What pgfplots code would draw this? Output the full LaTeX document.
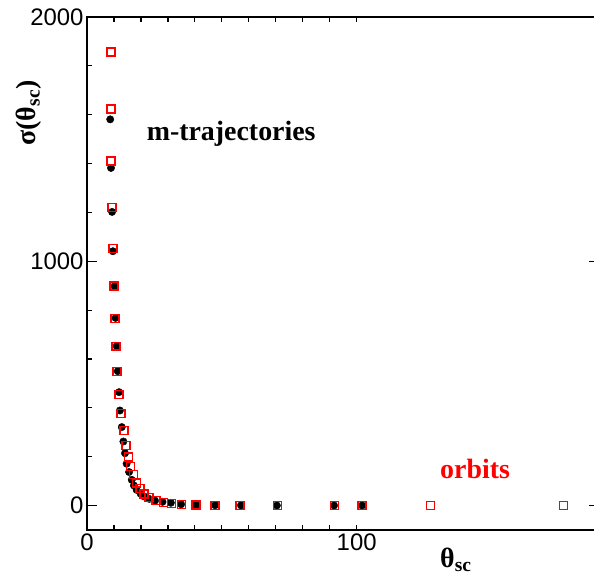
\documentclass[border=0pt]{standalone}
\usepackage{pgfplots}
\pgfplotsset{compat=1.18}
\usepackage{fontspec}
\setmainfont{Liberation Serif}
\setsansfont{Liberation Sans}
\definecolor{orbred}{RGB}{255,0,0}

\begin{document}
\begin{tikzpicture}
\begin{axis}[
    width=512.5bp, height=513bp, scale only axis,
    xmin=0, xmax=190,
    ymin=-100, ymax=2000,
    xtick={0,100}, ytick={0,1000,2000},
    minor x tick num=9, minor y tick num=4,
    axis line style={line width=1.6bp},
    tick style={line width=1.2bp, black},
    major tick length=10bp, minor tick length=5bp,
    xtick style={/pgfplots/major tick length=5bp},
    tick label style={font=\fontsize{24}{24}\selectfont\sffamily},
    /pgf/number format/assume math mode=true,
    /pgf/number format/1000 sep={},
    clip=false,
]
% m-trajectories
\addplot[only marks, mark=*, mark size=3.7bp, color=black] coordinates {
(8.6,1581) (8.9,1382) (9.3,1202) (9.6,1041) (10.2,898) (10.6,768)
(11.0,653) (11.4,550) (11.9,464) (12.2,389) (12.9,321) (13.5,262)
(14.1,214) (14.7,171) (15.6,137) (16.6,105) (17.4,82) (18.4,64)
(19.9,48) (21.2,37) (23.1,27) (25.2,20) (28.0,15) (31.1,11)
(34.9,5) (40.4,2) (47.5,1) (57.1,0.5) (70.4,0) (91.6,0) (102,0)
};
% orbits
\addplot[only marks, mark=square, mark size=4bp, color=orbred,
         mark options={solid, color=orbred, line width=1.5bp}] coordinates {
(8.9,1857) (8.9,1623) (8.9,1410) (9.3,1221) (9.6,1053) (10.0,898)
(10.4,766) (10.8,652) (11.2,549) (11.9,455) (12.6,377) (13.7,307)
(14.5,246) (15.3,199) (16.2,160) (17.2,126) (18.4,93) (19.6,69)
(21.2,48) (23.0,33) (25.5,20) (28.3,12) (31.4,8) (35.1,4)
(40.4,1) (47.5,0) (56.8,0) (70.6,0) (91.7,0) (102,0) (127.3,0) (176.6,0)
};
\node[anchor=base west, font=\fontsize{28}{28}\selectfont\bfseries, inner sep=0pt]
  at (axis cs:22.1,1496) {m-trajectories};
\node[anchor=base west, font=\fontsize{28}{28}\selectfont\bfseries, inner sep=0pt, text=orbred]
  at (axis cs:130.9,111) {orbits};
\node[anchor=base west, font=\fontsize{28}{28}\selectfont\bfseries, inner sep=0pt]
  at (axis cs:130.9,-254) {θ\textsubscript{sc}};
\node[rotate=90, anchor=center, font=\fontsize{28}{28}\selectfont\bfseries, inner sep=0pt]
  at (axis cs:-21.5,1607) {σ(θ\textsubscript{sc})};
\coordinate (BL) at (axis cs:-32.26,-311.5);
\coordinate (TR) at (axis cs:188.0,2069.7);
\end{axis}
\pgfresetboundingbox
\path[use as bounding box] (BL) rectangle (TR);
\end{tikzpicture}
\end{document}
